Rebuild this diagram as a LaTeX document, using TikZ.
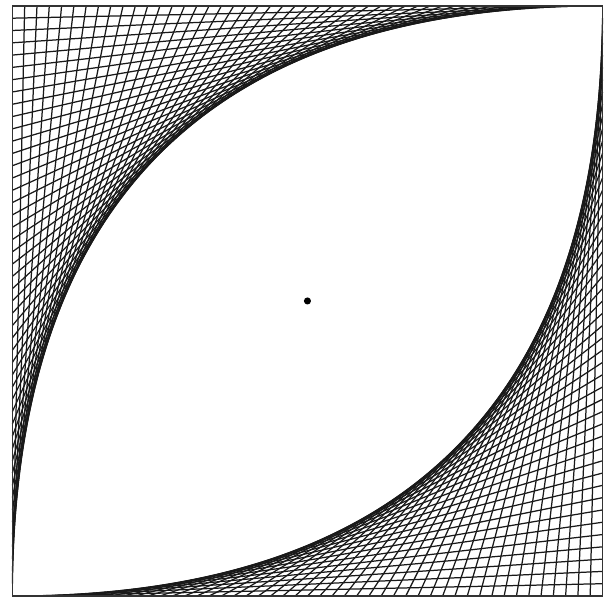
\documentclass[tikz,border=0pt]{standalone}
\begin{document}
\begin{tikzpicture}[
  thread/.style={draw=black!90, line width=0.6pt},
  frame/.style={draw=black!80, line width=0.6pt},
]

\def\side{10}
\def\steps{48}

\useasboundingbox (-0.21,-0.02) rectangle (10.11,10.10);

% Corner points.
\coordinate (sw) at (0,0);
\coordinate (ne) at (\side,\side);

% Upper-left envelope: left edge to top edge.
\foreach \i in {1,...,47} {
  \pgfmathsetmacro{\s}{\i*\side/\steps}
  \coordinate (l\i) at (0,\side-\s);
  \coordinate (t\i) at (\side-\s,\side);
  \draw[thread] (l\i) -- (t\i);
}

% Lower-right envelope: bottom edge to right edge.
\foreach \i in {1,...,47} {
  \pgfmathsetmacro{\s}{\i*\side/\steps}
  \coordinate (b\i) at (\s,0);
  \coordinate (r\i) at (\side,\s);
  \draw[thread] (b\i) -- (r\i);
}

% Outer border.
\draw[frame] (sw) rectangle (ne);

% Centre point.
\node[circle, fill=black, inner sep=0pt, minimum size=0.12cm] (centre) at (\side/2,\side/2) {};

\end{tikzpicture}
\end{document}
